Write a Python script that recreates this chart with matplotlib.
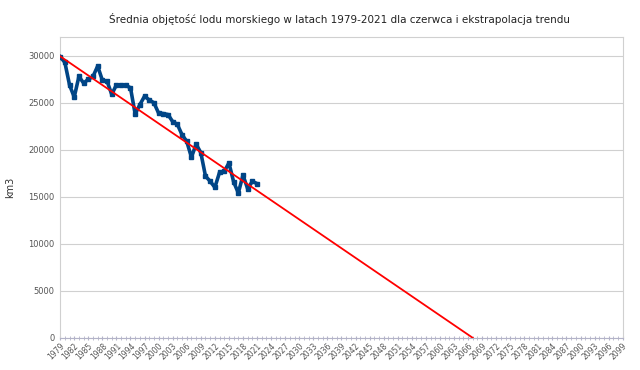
import matplotlib
matplotlib.use("Agg")
import matplotlib.pyplot as plt
from matplotlib.ticker import MultipleLocator

# June mean sea ice volume (km3), 1979-2021
years = list(range(1979, 2022))
volume = [29900, 29300, 26900, 25600, 27800, 27100, 27500, 27800, 28900, 27400,
          27300, 25900, 26900, 26900, 26850, 26600, 23800, 24800, 25700, 25300,
          25000, 23900, 23850, 23750, 23000, 22700, 21600, 20900, 19200, 20600,
          19700, 17200, 16650, 16000, 17600, 17700, 18600, 16600, 15400, 17300,
          15850, 16650, 16400]

# linear trend extrapolated down to zero
trend_years = [1979, 2067]
trend_values = [29950, 0]

axis_first, axis_last = 1979, 2099

fig = plt.figure(figsize=(6.4, 3.7), dpi=100)
ax = fig.add_axes([0.094, 0.087, 0.879, 0.813])

ax.plot(years, volume, color="#004586", linewidth=2.6, marker="s",
        markersize=3, zorder=3)
ax.plot(trend_years, trend_values, color="#ff0000", linewidth=1.3, zorder=4)

ax.set_xlim(axis_first, axis_last)
ax.set_ylim(0, 32000)
ax.set_yticks(range(0, 30001, 5000))
ax.set_xticks(range(axis_first, axis_last + 1, 3))
ax.xaxis.set_minor_locator(MultipleLocator(1))

ax.grid(axis="y", color="#d0d0d0", linewidth=0.8)
ax.set_axisbelow(True)
for side in ["top", "right", "left", "bottom"]:
    ax.spines[side].set_color("#d0d0d0")
    ax.spines[side].set_linewidth(0.8)
ax.spines["bottom"].set_color("#b3b3c8")

ax.tick_params(axis="y", length=0, labelsize=6, labelcolor="#555555", pad=4)
ax.tick_params(axis="x", which="both", length=3, color="#b3b3c8",
               labelsize=5.5, labelcolor="#555555", direction="inout", pad=1)
for lbl in ax.get_xticklabels():
    lbl.set_rotation(45)
    lbl.set_ha("right")
    lbl.set_rotation_mode("anchor")

ax.set_ylabel("km3", fontsize=7, color="#333333")
ax.yaxis.set_label_coords(-0.08, 0.5)
fig.suptitle("Średnia objętość lodu morskiego w latach 1979-2021 dla czerwca i ekstrapolacja trendu",
             fontsize=7.5, color="#222222", x=0.53, y=0.965)

fig.savefig("out.png", dpi=100)
